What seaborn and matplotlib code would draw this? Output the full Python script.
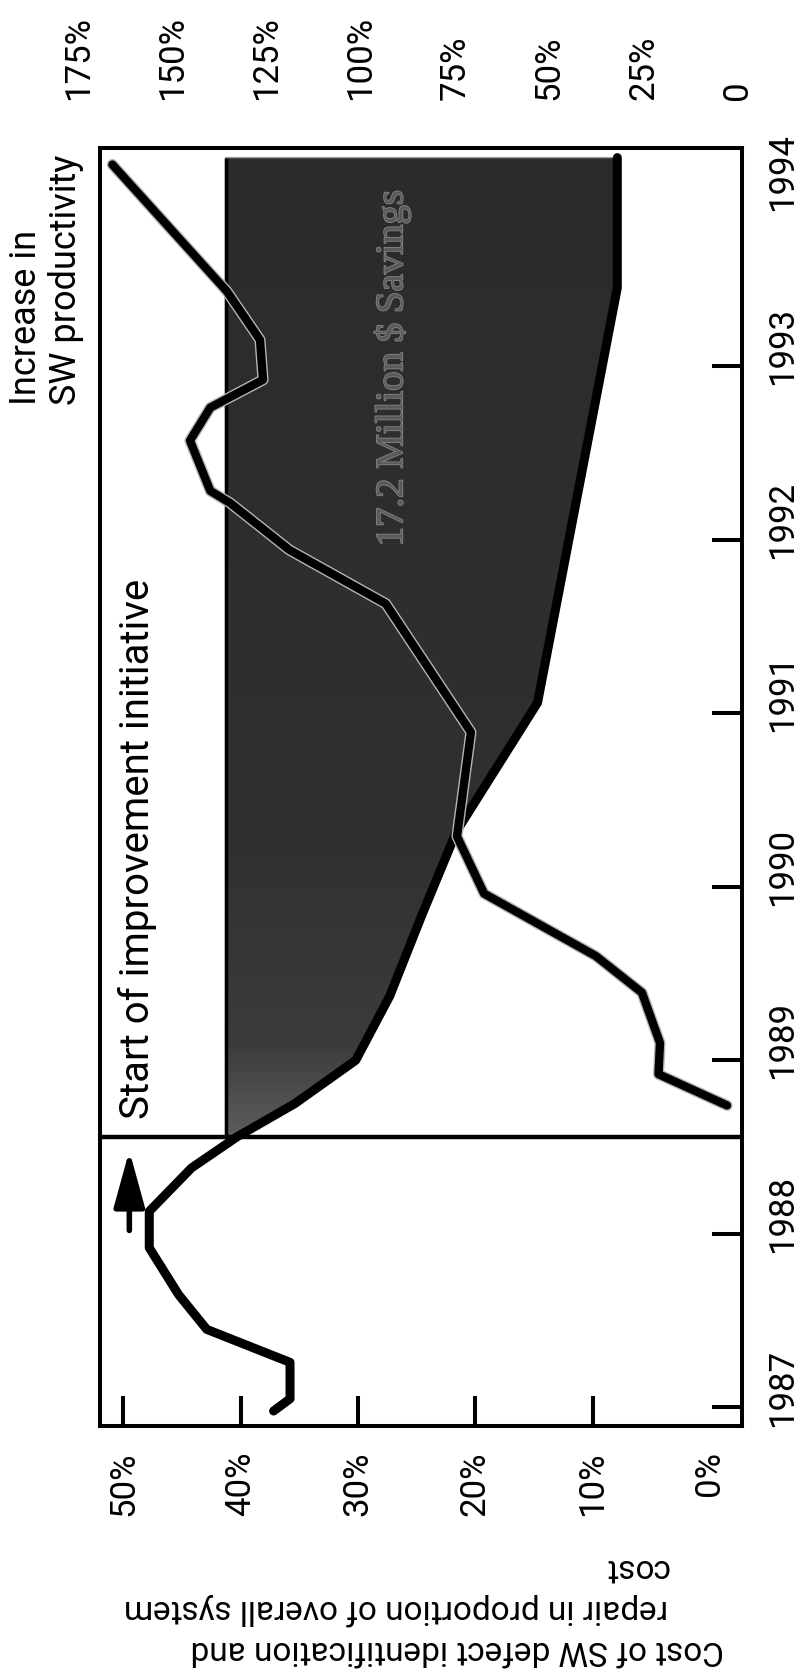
import matplotlib
matplotlib.use("Agg")
import numpy as np
import matplotlib.pyplot as plt
import matplotlib.patheffects as pe
import matplotlib.transforms as mtransforms
from matplotlib.colors import LinearSegmentedColormap
import seaborn as sns

# ------------------------------------------------------------------
# data (year vs. percent)
# ------------------------------------------------------------------
COST_YEARS = [1986.98, 1987.05, 1987.26, 1987.45, 1987.65, 1987.92, 1988.13,
              1988.38, 1988.56, 1988.75, 1989.00, 1989.37, 1989.83, 1990.32,
              1991.06, 1993.45, 1994.20]
COST_PCT = [37.2, 35.8, 35.8, 42.9, 45.3, 47.8, 47.8,
            44.2, 40.3, 35.4, 30.2, 27.3, 24.6, 21.6,
            14.7, 7.9, 7.9]

PROD_YEARS = [1988.74, 1988.92, 1989.10, 1989.39, 1989.60, 1989.96, 1990.29,
              1990.89, 1991.63, 1991.94, 1992.21, 1992.28, 1992.57, 1992.76,
              1992.92, 1993.15, 1993.43, 1994.16]
PROD_PCT = [2.8, 21.0, 20.6, 25.4, 37.6, 67.3, 74.5,
            70.8, 93.4, 119.0, 134.7, 140.0, 145.4, 140.0,
            126.0, 126.8, 135.6, 166.0]

START_YEAR = 1988.56      # start of improvement initiative
SAVINGS_LEVEL = 41.3      # cost level bounding the savings area

COST_TICKS = [0, 10, 20, 30, 40, 50]
COST_LABELS = ["0%", "10%", "20%", "30%", "40%", "50%"]
YEAR_TICKS = [1987, 1988, 1989, 1990, 1991, 1992, 1993, 1994]
YEAR_LABELS = [str(y) for y in YEAR_TICKS]
PROD_TICKS = [0, 25, 50, 75, 100, 125, 150, 175]
PROD_LABELS = ["0", "25%", "50%", "75%", "100%", "125%", "150%", "175%"]

# ------------------------------------------------------------------
# style
# ------------------------------------------------------------------
sns.set_theme(style="white")
plt.rcParams["font.family"] = ["Roboto", "DejaVu Sans"]
TICK_FS = 25
YLIM = (1986.893, 1994.255)
XLIM = (52.0, -2.73)

fig = plt.figure(figsize=(8, 16.73), dpi=100)
# the whole chart is printed rotated by 90 degrees:
# cost runs right-to-left, years run bottom-to-top
ax = fig.add_axes([0.125, 0.1476, 0.8025, 0.7639])
ax2 = fig.add_axes([0.075, 0.1476, 0.875, 0.7639], zorder=5)

# savings area, darker further into the initiative
shade = ax.fill_betweenx(COST_YEARS, COST_PCT, SAVINGS_LEVEL,
                         where=[y >= START_YEAR for y in COST_YEARS],
                         facecolor="none", edgecolor="#9a9a9a", linewidth=1, zorder=2)
ramp = np.linspace(0, 1, 200).reshape(-1, 1)
shade_cmap = LinearSegmentedColormap.from_list(
    "shade", [(0.0, "#5c5c5c"), (0.09, "#3c3c3c"), (0.3, "#303030"), (1.0, "#2b2b2b")])
img = ax.imshow(ramp, cmap=shade_cmap, origin="lower", aspect="auto",
                extent=(XLIM[0], XLIM[1], START_YEAR, YLIM[1]),
                interpolation="bilinear", zorder=1)
img.set_clip_path(shade.get_paths()[0], transform=ax.transData)

ax.set_xlim(*XLIM)
ax.set_ylim(*YLIM)
ax2.set_xlim(179.9, -5.95)
ax2.set_ylim(*YLIM)

ax.vlines(SAVINGS_LEVEL, START_YEAR, COST_YEARS[-1], color="black", lw=2.5, zorder=2)
ax.axhline(START_YEAR, color="black", lw=3.2, zorder=4)

# cost line
sns.lineplot(x=COST_PCT, y=COST_YEARS, orient="y", estimator=None, ax=ax,
             color="black", linewidth=6.5, solid_capstyle="round",
             solid_joinstyle="round", zorder=3)

# productivity line
sns.lineplot(x=PROD_PCT, y=PROD_YEARS, orient="y", estimator=None, ax=ax2,
             color="black", linewidth=6.0, solid_capstyle="round",
             solid_joinstyle="round",
             path_effects=[pe.Stroke(linewidth=8, foreground="#b5b5b5"), pe.Normal()])

# main axes: cost ticks (bottom) and years (right)
ax.set_xticks(COST_TICKS, COST_LABELS)
ax.tick_params(axis="x", direction="in", length=21.6, width=2.9, pad=18,
               labelrotation=90, labelsize=TICK_FS, bottom=True, colors="black")
ax.xaxis.get_major_ticks()[0].tick1line.set_visible(False)

ax.yaxis.tick_right()
ax.set_yticks(YEAR_TICKS, YEAR_LABELS)
ax.tick_params(axis="y", direction="in", length=21.6, width=2.9, pad=17,
               labelrotation=90, labelsize=TICK_FS, right=True, left=False,
               colors="black")
ax.yaxis.get_major_ticks()[-1].tick2line.set_visible(False)
shift = mtransforms.ScaledTranslation(0, 0.2, fig.dpi_scale_trans)
for t in ax.yaxis.get_major_ticks():
    t.label2.set_va("center")
    t.label2.set_transform(t.label2.get_transform() + shift)

ax.set_xlabel("")
ax.set_ylabel("")
ax.grid(False)
for s in ax.spines.values():
    s.set_visible(True)
    s.set_color("black")
    s.set_linewidth(2.9)
    s.set_zorder(6)

# productivity axis: labels only, along the top
ax2.xaxis.tick_top()
ax2.set_xticks(PROD_TICKS, PROD_LABELS)
ax2.tick_params(axis="x", length=0, pad=34.5, labelrotation=90,
                labelsize=TICK_FS, top=True, bottom=False, colors="black")
ax2.set_yticks([])
ax2.set_xlabel("")
ax2.set_ylabel("")
ax2.grid(False)
ax2.patch.set_visible(False)
for s in ax2.spines.values():
    s.set_visible(False)

# annotations
ax.text(48.8, 1988.66, "Start of improvement initiative", rotation=90,
        ha="center", va="bottom", fontsize=29, color="black")
ax.annotate("", xy=(49.5, 1988.48), xytext=(49.5, 1988.02),
            arrowprops=dict(arrowstyle="-|>,head_length=0.8,head_width=0.22",
                            lw=4, color="black", mutation_scale=43,
                            shrinkA=0, shrinkB=0))
ax.text(27.1, 1991.96, "17.2 Million $ Savings", rotation=90,
        ha="center", va="bottom", fontsize=28, color="#5a5a5a",
        family=["Liberation Serif", "DejaVu Serif"],
        path_effects=[pe.withStroke(linewidth=1.2, foreground="#858585")])

fig.text(0.01, 0.758, "Increase in\nSW productivity", rotation=90,
         ha="left", va="bottom", fontsize=26, multialignment="left",
         linespacing=1.15, color="black")

# axis title, printed upside down
fig.text(724 / 800, 23 / 1673, "Cost of SW defect identification and",
         rotation=180, ha="right", va="center", fontsize=24, color="black")
fig.text(668 / 800, 64 / 1673, "repair in proportion of overall system",
         rotation=180, ha="right", va="center", fontsize=24, color="black")
fig.text(668 / 800, 105 / 1673, "cost",
         rotation=180, ha="right", va="center", fontsize=24, color="black")

fig.savefig("out.png", dpi=100)
